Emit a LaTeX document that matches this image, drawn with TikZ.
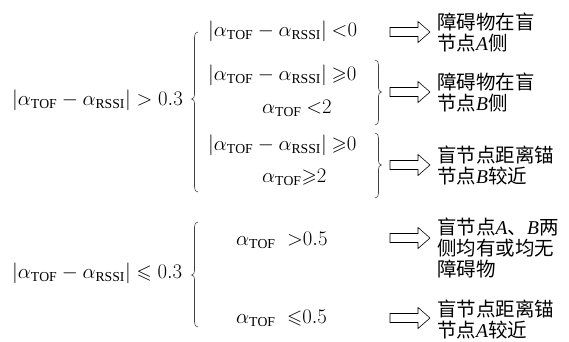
\documentclass[tikz,border=0pt]{standalone}
\usepackage{amssymb}
\usepackage{fontspec}
\setmainfont{Liberation Serif}
\newfontfamily\cjk{Noto Sans CJK SC}
\newcommand\romanit[1]{{\rmfamily\itshape #1}}
\newcommand\absdiff{\Bigl|\alpha_{\mathrm{TOF}}-\alpha_{\mathrm{RSSI}}\Bigr|}
\begin{document}
\begin{tikzpicture}[x=1pt,y=-1pt,
  mathtext/.style={inner sep=0pt,anchor=west,font=\fontsize{19.6}{22}\selectfont},
  result/.style={inner sep=0pt,anchor=west,align=left,font=\fontsize{19.5}{21}\selectfont\cjk},
  bracestroke/.style={draw=black!75,line width=0.6pt},
  arrowline/.style={draw=black,line width=0.6pt,line join=miter},
  hollowarrow/.pic={\path[arrowline] (-20,-4.5) -- (8,-4.5) -- (8,-10.5) -- (20,0) -- (8,10.5) -- (8,4.5) -- (-20,4.5) -- cycle;}
]
\useasboundingbox (0,0) rectangle (569,341);

% left-hand conditions
\node[mathtext] (gt) at (12,100) {$\absdiff>0.3$};
\node[mathtext] (le) at (12,273) {$\absdiff\leqslant0.3$};

% sub-conditions
\node[mathtext] (r1)  at (208,31)  {$\absdiff\ {<}0$};
\node[mathtext] (r2a) at (208,75)  {$\absdiff\ {\geqslant}0$};
\node[mathtext] (r2b) at (262,108) {$\alpha_{\mathrm{TOF}}\ {<}2$};
\node[mathtext] (r3a) at (208,145) {$\absdiff\ {\geqslant}0$};
\node[mathtext] (r3b) at (262,177) {$\alpha_{\mathrm{TOF}}{\geqslant}2$};
\node[mathtext] (b1)  at (236,240) {$\alpha_{\mathrm{TOF}}\;\;{>}0.5$};
\node[mathtext] (b2)  at (236,318) {$\alpha_{\mathrm{TOF}}\;\;{\leqslant}0.5$};

% left braces
\path[bracestroke] (198,32) .. controls (195.5,32) and (194.5,34) .. (194.5,37)
  -- (194.5,95) .. controls (194.5,97.5) and (193.5,98.5) .. (191.5,99)
  .. controls (193.5,99.5) and (194.5,100.5) .. (194.5,103)
  -- (194.5,187) .. controls (194.5,190) and (195.5,192) .. (198,192);
\path[bracestroke] (198,222) .. controls (195.5,222) and (194.5,224) .. (194.5,227)
  -- (194.5,271) .. controls (194.5,273.5) and (193.5,274.5) .. (191.5,275)
  .. controls (193.5,275.5) and (194.5,276.5) .. (194.5,279)
  -- (194.5,322) .. controls (194.5,325) and (195.5,327) .. (198,327);

% right braces
\path[bracestroke] (375,60) .. controls (377.5,60) and (378.5,62) .. (378.5,65)
  -- (378.5,88) .. controls (378.5,90.5) and (379.5,91.5) .. (381.5,92)
  .. controls (379.5,92.5) and (378.5,93.5) .. (378.5,96)
  -- (378.5,120) .. controls (378.5,123) and (377.5,125) .. (375,125);
\path[bracestroke] (375,133) .. controls (377.5,133) and (378.5,135) .. (378.5,138)
  -- (378.5,161) .. controls (378.5,163.5) and (379.5,164.5) .. (381.5,165)
  .. controls (379.5,165.5) and (378.5,166.5) .. (378.5,169)
  -- (378.5,193) .. controls (378.5,196) and (377.5,198) .. (375,198);

% implication arrows
\pic (a1) at (410,32)  {hollowarrow};
\pic (a2) at (410,92)  {hollowarrow};
\pic (a3) at (410,165) {hollowarrow};
\pic (a4) at (410,238) {hollowarrow};
\pic (a5) at (410,318) {hollowarrow};

% conclusions
\node[result] (c1) at (437,32)  {障碍物在盲\\节点\romanit{A}侧};
\node[result] (c2) at (437,92)  {障碍物在盲\\节点\romanit{B}侧};
\node[result] (c3) at (437,165) {盲节点距离锚\\节点\romanit{B}较近};
\node[result] (c4) at (437,248) {盲节点\romanit{A}、\romanit{B}两\\侧均有或均无\\障碍物};
\node[result] (c5) at (437,319) {盲节点距离锚\\节点\romanit{A}较近};
\end{tikzpicture}
\end{document}
